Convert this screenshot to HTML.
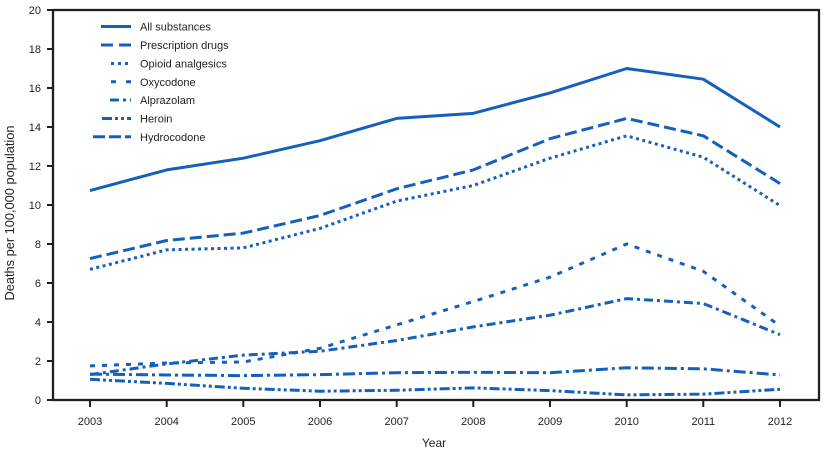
<!DOCTYPE html>
<html><head><meta charset="utf-8"><style>
html,body{margin:0;padding:0;background:#fff;}
svg{display:block;}
text{font-family:"Liberation Sans",sans-serif;fill:#231f20;}
</style></head><body>
<svg width="826" height="454" viewBox="0 0 826 454" xmlns="http://www.w3.org/2000/svg">
<rect width="826" height="454" fill="#fff"/>
<!-- frame -->
<rect x="53" y="10" width="766" height="390" fill="none" stroke="#231f20" stroke-width="2.3"/>
<!-- y ticks -->
<g stroke="#231f20" stroke-width="2">
<line x1="47" y1="400" x2="53" y2="400"/>
<line x1="47" y1="361" x2="53" y2="361"/>
<line x1="47" y1="322" x2="53" y2="322"/>
<line x1="47" y1="283" x2="53" y2="283"/>
<line x1="47" y1="244" x2="53" y2="244"/>
<line x1="47" y1="205" x2="53" y2="205"/>
<line x1="47" y1="166" x2="53" y2="166"/>
<line x1="47" y1="127" x2="53" y2="127"/>
<line x1="47" y1="88" x2="53" y2="88"/>
<line x1="47" y1="49" x2="53" y2="49"/>
<line x1="47" y1="10" x2="53" y2="10"/>
</g>
<g font-size="11" text-anchor="end">
<text x="41" y="404">0</text>
<text x="41" y="365">2</text>
<text x="41" y="326">4</text>
<text x="41" y="287">6</text>
<text x="41" y="248">8</text>
<text x="41" y="209">10</text>
<text x="41" y="170">12</text>
<text x="41" y="131">14</text>
<text x="41" y="92">16</text>
<text x="41" y="53">18</text>
<text x="41" y="14">20</text>
</g>
<!-- x ticks -->
<g stroke="#231f20" stroke-width="2">
<line x1="90" y1="400" x2="90" y2="407"/>
<line x1="166.7" y1="400" x2="166.7" y2="407"/>
<line x1="243.3" y1="400" x2="243.3" y2="407"/>
<line x1="320" y1="400" x2="320" y2="407"/>
<line x1="396.7" y1="400" x2="396.7" y2="407"/>
<line x1="473.3" y1="400" x2="473.3" y2="407"/>
<line x1="550" y1="400" x2="550" y2="407"/>
<line x1="626.7" y1="400" x2="626.7" y2="407"/>
<line x1="703.3" y1="400" x2="703.3" y2="407"/>
<line x1="780" y1="400" x2="780" y2="407"/>
</g>
<g font-size="11" text-anchor="middle">
<text x="90" y="425">2003</text>
<text x="166.7" y="425">2004</text>
<text x="243.3" y="425">2005</text>
<text x="320" y="425">2006</text>
<text x="396.7" y="425">2007</text>
<text x="473.3" y="425">2008</text>
<text x="550" y="425">2009</text>
<text x="626.7" y="425">2010</text>
<text x="703.3" y="425">2011</text>
<text x="780" y="425">2012</text>
</g>
<text x="434" y="447" font-size="12" text-anchor="middle">Year</text>
<text transform="translate(14,213) rotate(-90)" font-size="12.8" text-anchor="middle">Deaths per 100,000 population</text>

<!-- series -->
<g fill="none" stroke="#1560bd" stroke-width="3" stroke-linejoin="round">
<polyline points="90,190.6 166.7,169.9 243.3,158.2 320,140.65 396.7,118.4 473.3,113.35 550,92.9 626.7,68.5 703.3,79.2 780,127"/>
<polyline stroke-dasharray="12 5" points="90,258.6 166.7,240.5 243.3,233.1 320,215.5 396.7,188.8 473.3,169.9 550,138.7 626.7,118.4 703.3,135.8 780,183.55"/>
<polyline stroke-dasharray="3 3.5" points="90,269.35 166.7,249.85 243.3,247.9 320,228.4 396.7,201.1 473.3,185.5 550,158.2 626.7,135.8 703.3,157.2 780,205.6"/>
<polyline stroke-dasharray="5 7" points="90,365.9 166.7,363 243.3,362 320,348.3 396.7,324.9 473.3,301.5 550,277.15 626.7,244 703.3,271.3 780,325.9"/>
<polyline stroke-dasharray="9 4 3 4" points="90,374.65 166.7,363.9 243.3,355.15 320,351.25 396.7,340.5 473.3,326.9 550,315.2 626.7,298.6 703.3,303.5 780,334.7"/>
<polyline stroke-dasharray="10 3 3 3 3 3" points="90,379.3 166.7,383.4 243.3,388.3 320,391.2 396.7,390.25 473.3,387.9 550,390.6 626.7,394.9 703.3,394.15 780,389.3"/>
<polyline stroke-dasharray="12 4 3 4" points="90,374.1 166.7,375 243.3,375.6 320,374.65 396.7,372.7 473.3,372.3 550,372.7 626.7,367.8 703.3,368.8 780,375"/>
</g>

<!-- legend -->
<g fill="none" stroke="#1560bd" stroke-width="3">
<line x1="101" y1="26.5" x2="131" y2="26.5"/>
<line x1="101" y1="45" x2="131" y2="45" stroke-dasharray="12 6"/>
<line x1="111" y1="63.5" x2="131" y2="63.5" stroke-dasharray="3 4"/>
<line x1="111" y1="81.8" x2="131" y2="81.8" stroke-dasharray="5 10"/>
<line x1="110" y1="100" x2="131" y2="100" stroke-dasharray="9 4 3 4"/>
<line x1="102" y1="118.5" x2="131" y2="118.5" stroke-dasharray="10 3 3 3 3 3"/>
<line x1="93" y1="136.8" x2="131" y2="136.8" stroke-dasharray="12 4 12 4 6"/>
</g>
<g font-size="11">
<text x="140" y="30.5">All substances</text>
<text x="140" y="49">Prescription drugs</text>
<text x="140" y="67.5">Opioid analgesics</text>
<text x="140" y="85.8">Oxycodone</text>
<text x="140" y="104">Alprazolam</text>
<text x="140" y="122.5">Heroin</text>
<text x="140" y="140.8">Hydrocodone</text>
</g>
</svg>
</body></html>
